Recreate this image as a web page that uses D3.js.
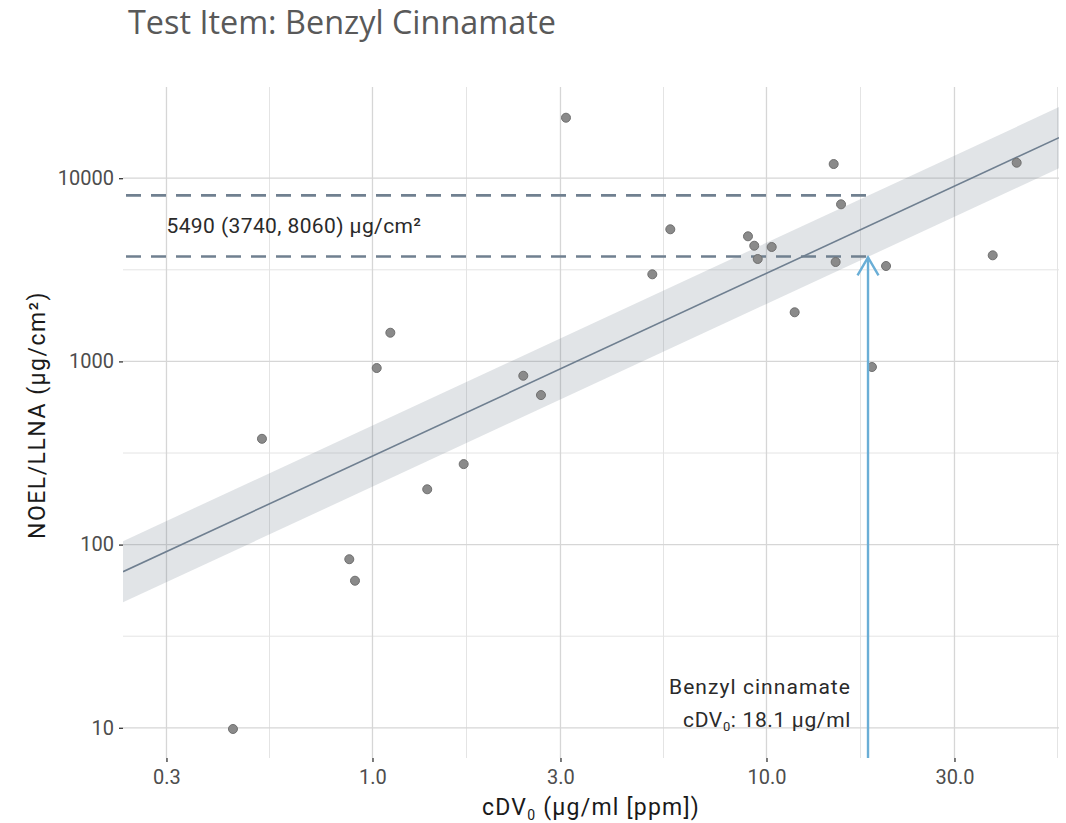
<!DOCTYPE html>
<html>
<head>
<meta charset="utf-8">
<script src="https://cdn.jsdelivr.net/npm/d3@7"></script>
<style>
  html, body { margin: 0; padding: 0; background: #ffffff; }
  svg { display: block; }
</style>
</head>
<body>
<svg id="chart" width="1066" height="823"></svg>
<script>
// ---------------- data ----------------
const titleText = "Test Item: Benzyl Cinnamate";
const xAxisTitle = "cDV";
const yAxisTitle = "NOEL/LLNA (µg/cm²)";

const pointsX = [3.098, 14.81, 43.15, 15.46, 5.70, 8.975, 9.31, 10.31, 9.50, 14.98,
                 5.131, 20.11, 37.51, 11.79, 1.110, 1.025, 18.52, 2.414, 2.677, 0.5242,
                 1.704, 1.377, 0.8732, 0.9028, 0.4425];
const pointsY = [21390, 11950, 12150, 7202, 5262, 4818, 4281, 4212, 3623, 3488,
                 2988, 3317, 3794, 1854, 1434, 920, 932, 835, 655, 378,
                 275, 200.4, 83.2, 63.5, 9.85];

const fitX    = [0.2327, 55.26];
const fitY    = [71.1, 16640];
const fitLow  = [48.4, 11330];
const fitHigh = [104.4, 24440];

const testItemX = 18.1;       // cDV0 of Benzyl cinnamate
const predValue = 5490;
const predLow = 3740;
const predHigh = 8060;

const xTicks = [0.3, 1, 3, 10, 30];
const xTickLabels = ["0.3", "1.0", "3.0", "10.0", "30.0"];
const xMinorBreaks = [0.5477, 1.7321, 5.4772, 17.3205, 54.7723];
const yTicks = [10, 100, 1000, 10000];
const yTickLabels = ["10", "100", "1000", "10000"];
const yMinorBreaks = [31.62, 316.2, 3162];

const xDomain = [0.2327, 55.26];
const yDomain = [6.84, 31470];

// ---------------- layout ----------------
const W = 1066, H = 823;
const margin = {top: 87, right: 7, bottom: 65, left: 123};
const pw = W - margin.left - margin.right;
const ph = H - margin.top - margin.bottom;

const svg = d3.select("#chart");
const g = svg.append("g").attr("transform", `translate(${margin.left},${margin.top})`);

const x = d3.scaleLog().domain(xDomain).range([0, pw]);
const y = d3.scaleLog().domain(yDomain).range([ph, 0]);

// widen a text element to a target width via letter-spacing
function fitSpacing(sel, target) {
  const node = sel.node();
  const w = node.getComputedTextLength();
  const n = node.getNumberOfChars();
  if (n > 1) sel.attr("letter-spacing", ((target - w) / n).toFixed(3));
}

svg.append("defs").append("clipPath").attr("id", "clip")
  .append("rect").attr("x", 0).attr("y", 0).attr("width", pw).attr("height", ph);

// grid
const grid = g.append("g");
grid.selectAll(".vminor").data(xMinorBreaks.filter(v => v >= xDomain[0] && v <= xDomain[1]))
  .enter().append("line")
  .attr("x1", d => x(d)).attr("x2", d => x(d)).attr("y1", 0).attr("y2", ph)
  .attr("stroke", "#e4e4e4").attr("stroke-width", 1);
grid.selectAll(".hminor").data(yMinorBreaks.filter(v => v >= yDomain[0] && v <= yDomain[1]))
  .enter().append("line")
  .attr("y1", d => y(d)).attr("y2", d => y(d)).attr("x1", 0).attr("x2", pw)
  .attr("stroke", "#e4e4e4").attr("stroke-width", 1);
grid.selectAll(".vmajor").data(xTicks)
  .enter().append("line")
  .attr("x1", d => x(d)).attr("x2", d => x(d)).attr("y1", 0).attr("y2", ph)
  .attr("stroke", "#d6d6d6").attr("stroke-width", 1.3);
grid.selectAll(".hmajor").data(yTicks)
  .enter().append("line")
  .attr("y1", d => y(d)).attr("y2", d => y(d)).attr("x1", 0).attr("x2", pw)
  .attr("stroke", "#d6d6d6").attr("stroke-width", 1.3);

// band + fit line
const plotArea = g.append("g").attr("clip-path", "url(#clip)");
const bandData = fitX.map((v, i) => ({x: v, lo: fitLow[i], hi: fitHigh[i], fit: fitY[i]}));
plotArea.append("path").datum(bandData)
  .attr("d", d3.area().x(d => x(d.x)).y0(d => y(d.lo)).y1(d => y(d.hi)))
  .attr("fill", "#708090").attr("fill-opacity", 0.21);
plotArea.append("path").datum(bandData)
  .attr("d", d3.line().x(d => x(d.x)).y(d => y(d.fit)))
  .attr("fill", "none").attr("stroke", "#6f7f90").attr("stroke-width", 1.6);

// dashed prediction interval lines
g.selectAll(".pi").data([predHigh, predLow]).enter().append("line")
  .attr("x1", 0).attr("x2", x(testItemX))
  .attr("y1", d => y(d)).attr("y2", d => y(d))
  .attr("stroke", "#708090").attr("stroke-width", 2.6)
  .attr("stroke-dasharray", "15,10").attr("stroke-dashoffset", -3);

// points
g.selectAll(".pt").data(pointsX.map((v, i) => [v, pointsY[i]])).enter().append("circle")
  .attr("cx", d => x(d[0])).attr("cy", d => y(d[1])).attr("r", 4.5)
  .attr("fill", "#8a8a8a").attr("stroke", "#707070").attr("stroke-width", 1);

// arrow
const ax = x(testItemX), ay = y(predLow);
g.append("line").attr("x1", ax).attr("x2", ax).attr("y1", ph).attr("y2", ay + 1)
  .attr("stroke", "#6aaed6").attr("stroke-width", 2.4);
g.append("path")
  .attr("d", `M${ax - 10.5},${ay + 19} L${ax},${ay + 1} L${ax + 10.5},${ay + 19}`)
  .attr("fill", "none").attr("stroke", "#6aaed6").attr("stroke-width", 2.4);

// annotation labels
const annoFont = "Roboto, 'DejaVu Sans', sans-serif";
const piText = g.append("text")
  .attr("x", x(0.3)).attr("y", y(predValue)).attr("dy", "0.36em")
  .attr("font-family", annoFont).attr("font-size", 21).attr("fill", "#2a2a2a")
  .text(`${predValue} (${predLow}, ${predHigh}) µg/cm²`);
fitSpacing(piText, 255);

const line1 = g.append("text")
  .attr("font-family", annoFont).attr("font-size", 21).attr("fill", "#2a2a2a")
  .attr("text-anchor", "end").attr("x", ax - 17).attr("y", ph - 64)
  .text("Benzyl cinnamate");
fitSpacing(line1, 182);
const line2 = g.append("text")
  .attr("font-family", annoFont).attr("font-size", 21).attr("fill", "#2a2a2a")
  .attr("text-anchor", "end").attr("x", ax - 17).attr("y", ph - 31.5);
line2.append("tspan").text("cDV");
line2.append("tspan").attr("font-size", 13).attr("dy", 4).text("0");
line2.append("tspan").attr("dy", -4).text(`: ${testItemX} µg/ml`);
fitSpacing(line2, 168);

// axes
const tickColor = "#333333";
const labelColor = "#4d4d4d";
const tickFont = "Roboto, 'DejaVu Sans', sans-serif";

const xAxis = g.append("g").attr("transform", `translate(0,${ph})`)
  .call(d3.axisBottom(x).tickValues(xTicks).tickFormat((d, i) => xTickLabels[i]).tickSize(4).tickPadding(8));
const yAxis = g.append("g")
  .call(d3.axisLeft(y).tickValues(yTicks).tickFormat((d, i) => yTickLabels[i]).tickSize(4).tickPadding(5));
[xAxis, yAxis].forEach(a => {
  a.select(".domain").remove();
  a.selectAll(".tick line").attr("stroke", tickColor).attr("stroke-width", 1.3);
  a.selectAll(".tick text").attr("fill", labelColor).attr("font-family", tickFont).attr("font-size", 20);
});

// axis titles
const xt = svg.append("text")
  .attr("x", margin.left + pw / 2).attr("y", 815)
  .attr("text-anchor", "middle")
  .attr("font-family", tickFont).attr("font-size", 23).attr("fill", "#1a1a1a");
xt.append("tspan").text(xAxisTitle);
xt.append("tspan").attr("font-size", 14).attr("dy", 5).text("0");
xt.append("tspan").attr("dy", -5).text(" (µg/ml [ppm])");
fitSpacing(xt, 218);

const yt = svg.append("text")
  .attr("transform", `translate(45,415) rotate(-90)`)
  .attr("text-anchor", "middle")
  .attr("font-family", tickFont).attr("font-size", 23).attr("fill", "#1a1a1a")
  .text(yAxisTitle);
fitSpacing(yt, 248);

// title
const title = svg.append("text")
  .attr("x", 128).attr("y", 34)
  .attr("font-family", "'Open Sans', 'Noto Sans', sans-serif").attr("font-size", 31)
  .attr("fill", "#595959")
  .text(titleText);
const tw = title.node().getComputedTextLength();
title.attr("font-size", 31 * 428 / tw);
</script>
</body>
</html>
